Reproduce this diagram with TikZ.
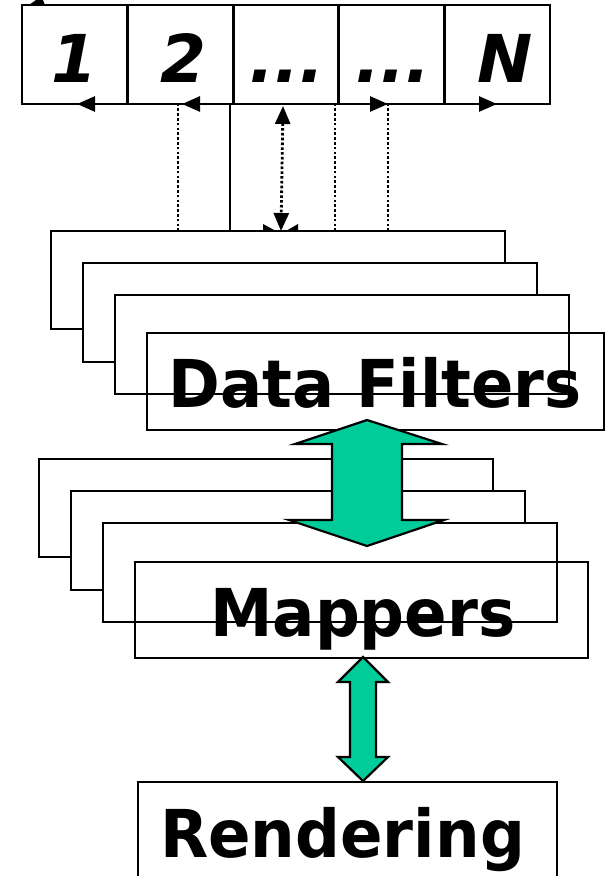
\documentclass[tikz,border=0pt]{standalone}
\usepackage{fontspec}
\usepackage{graphicx}
\setmainfont{DejaVu Sans}
\usetikzlibrary{arrows.meta}
\definecolor{arrowgreen}{HTML}{00CC99}
\begin{document}
\begin{tikzpicture}[x=1pt,y=-1pt,
  box/.style={draw=black,line width=2.9pt,rectangle,inner sep=0pt},
  cell/.style={box,minimum width=105.6pt,minimum height=99pt},
  bigtext/.style={font=\fontsize{66}{70}\selectfont\bfseries,inner sep=0pt},
  celltext/.style={font=\fontsize{66}{70}\selectfont\bfseries\itshape,inner sep=0pt,anchor=base},
  dotline/.style={line width=2.8pt,dash pattern=on 2.6pt off 2.2pt},
  tip/.style={-{Triangle[length=18pt,width=15pt]}},
  blockarrow/.style={fill=arrowgreen,draw=black,line width=2.2pt,line join=miter}
]
\useasboundingbox (0,0) rectangle (611,876);
\fill[white] (0,0) rectangle (611,876);

% top cells
\node[cell] (c1) at (74.8,54.5) {};
\node[cell] (c2) at (180.4,54.5) {};
\node[cell] (c3) at (286.0,54.5) {};
\node[cell] (c4) at (391.6,54.5) {};
\node[cell] (c5) at (497.2,54.5) {};
\node[celltext] (t1) at (74,82) {1};
\node[celltext] (t2) at (183,82) {2};
\node[celltext] (t3) at (287,82) {...};
\node[celltext] (t4) at (393,82) {...};
\node[celltext] (t5) at (505,82) {N};

% partial arrow tip at top left
\fill (29,5) -- (36,0) -- (43,0) -- (45,5) -- cycle;

% filter stack
\node[box,fill=white,minimum width=454pt,minimum height=98pt] (f1) at (278,280) {};
\node[box,fill=white,minimum width=454pt,minimum height=99pt] (f2) at (310,312.5) {};
\node[box,fill=white,minimum width=454pt,minimum height=99pt] (f3) at (342,344.5) {};
\node[box,minimum width=457pt,minimum height=97pt] (f4) at (375.5,381.5) {};
\node[bigtext,anchor=base] (ft) at (375,407) {\scalebox{0.945}[1]{Data Filters}};

% coordinates for connectors
\coordinate (a1) at (178,231);
\coordinate (a1b) at (178,104);
\coordinate (a1e) at (77,104);
\coordinate (a2) at (230,231);
\coordinate (a2b) at (230,104);
\coordinate (a2e) at (182,104);
\coordinate (a3) at (335,231);
\coordinate (a3b) at (335,104);
\coordinate (a3e) at (388,104);
\coordinate (a4) at (388,231);
\coordinate (a4b) at (388,104);
\coordinate (a4e) at (497,104);
\coordinate (d1) at (283,106);
\coordinate (d2) at (281,231);

\draw[dotline,tip] (a1) -- (a1b) -- (a1e);
\draw[line width=2.6pt,tip] (a2) -- (a2b) -- (a2e);
\draw[dotline,tip] (a3) -- (a3b) -- (a3e);
\draw[dotline,tip] (a4) -- (a4b) -- (a4e);
\draw[dotline,{Triangle[length=18pt,width=15pt]}-{Triangle[length=18pt,width=15pt]}] (d1) -- (d2);
\fill (263,224) -- (276,231) -- (263,231) -- cycle;
\fill (298,224) -- (286,231) -- (298,231) -- cycle;

% mapper stack
\node[box,fill=white,minimum width=454pt,minimum height=98pt] (m1) at (266,508) {};
\node[box,fill=white,minimum width=454pt,minimum height=99pt] (m2) at (298,540.5) {};
\node[box,fill=white,minimum width=454pt,minimum height=99pt] (m3) at (330,572.5) {};
\node[box,minimum width=453pt,minimum height=96pt] (m4) at (361.5,610) {};
\node[bigtext,anchor=base] (mt) at (363,636) {\scalebox{0.95}[1]{Mappers}};

% big block arrow between filters and mappers
\draw[blockarrow] (367,420) -- (442,444) -- (402,444) -- (402,520) -- (444,520) -- (367,546)
  -- (289,520) -- (332,520) -- (332,444) -- (295,444) -- cycle;

% rendering box
\node[box,minimum width=419pt,minimum height=130pt] (r) at (347.5,847) {};
\node[bigtext,anchor=base] (rt) at (342.5,857) {\scalebox{0.95}[1]{Rendering}};

% small block arrow between mappers and rendering
\draw[blockarrow] (363,657) -- (388,682) -- (376,682) -- (376,757) -- (388,757) -- (363,781)
  -- (338,757) -- (350,757) -- (350,682) -- (338,682) -- cycle;
\end{tikzpicture}
\end{document}
